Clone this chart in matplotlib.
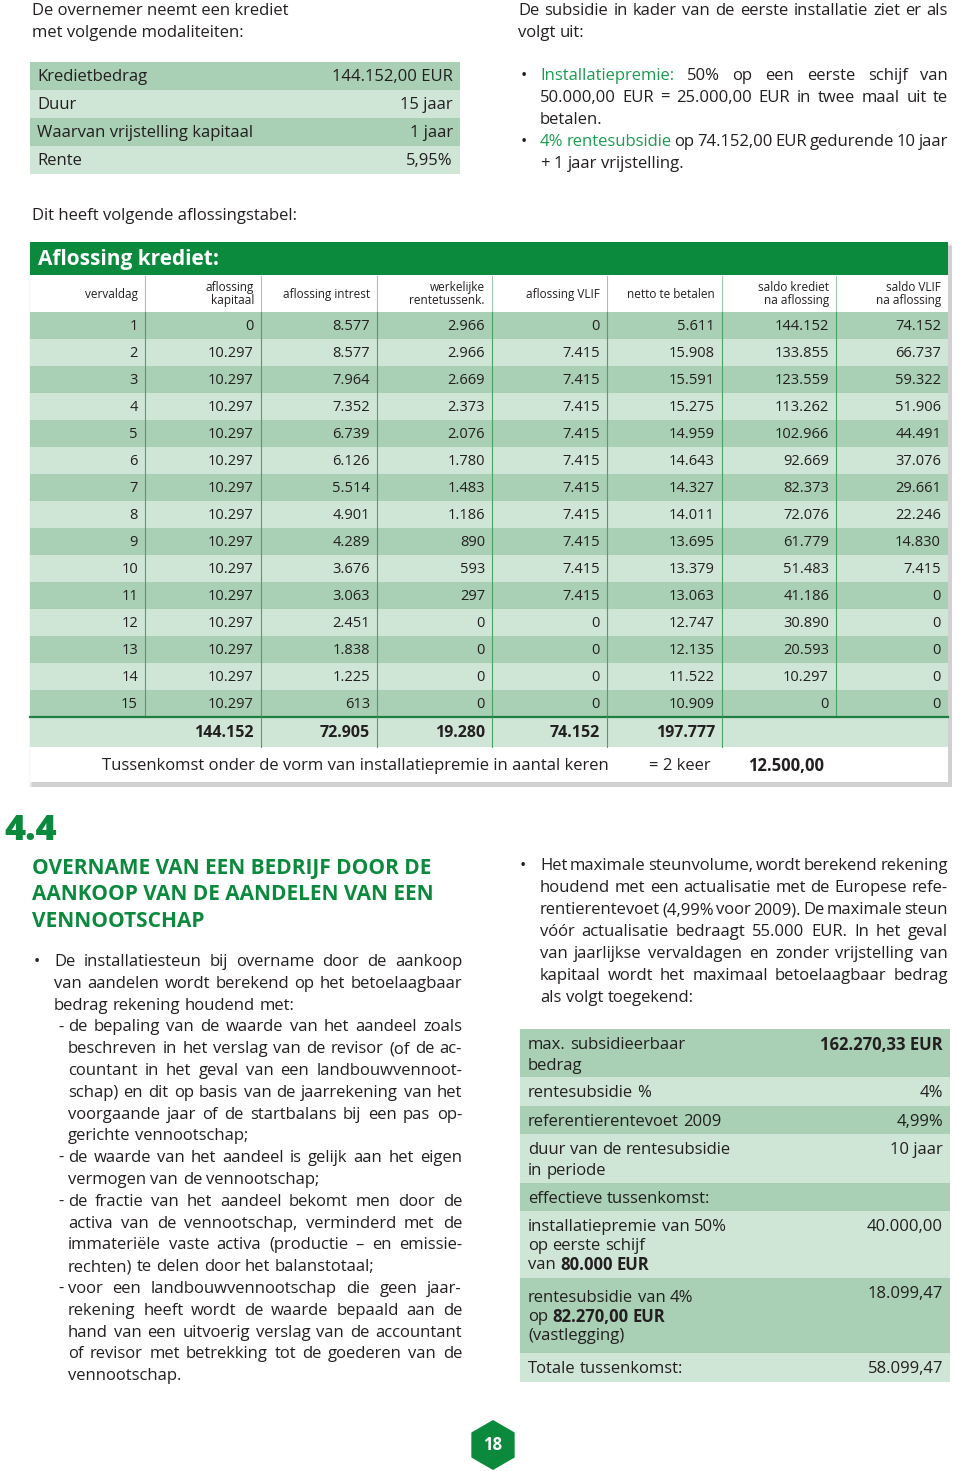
import matplotlib
matplotlib.use('Agg')
import matplotlib.pyplot as plt
from matplotlib.patches import Rectangle, RegularPolygon

plt.rcParams['font.family'] = ['Open Sans', 'DejaVu Sans']

# kleuren
GREEN = '#0b8a3e'
GREEN_TXT = '#1c9a4f'
DARK = '#a9cfb4'
LIGHT = '#cfe5d6'
INK = '#231f20'
SEP = '#4aa466'
FS = 12

# kleine tabel links boven
krediet_labels = ['Kredietbedrag', 'Duur', 'Waarvan vrijstelling kapitaal', 'Rente']
krediet_values = ['144.152,00 EUR', '15 jaar', '1 jaar', '5,95%']

# aflossingstabel
kolom_koppen = ['vervaldag', 'aflossing\nkapitaal', 'aflossing intrest', 'werkelijke\nrentetussenk.',
                'aflossing VLIF', 'netto te betalen', 'saldo krediet\nna aflossing', 'saldo VLIF\nna aflossing']
vervaldag = [1, 2, 3, 4, 5, 6, 7, 8, 9, 10, 11, 12, 13, 14, 15]
afl_kapitaal = [0, 10297, 10297, 10297, 10297, 10297, 10297, 10297, 10297, 10297, 10297, 10297, 10297, 10297, 10297]
afl_intrest = [8577, 8577, 7964, 7352, 6739, 6126, 5514, 4901, 4289, 3676, 3063, 2451, 1838, 1225, 613]
rentetussenk = [2966, 2966, 2669, 2373, 2076, 1780, 1483, 1186, 890, 593, 297, 0, 0, 0, 0]
afl_vlif = [0, 7415, 7415, 7415, 7415, 7415, 7415, 7415, 7415, 7415, 7415, 0, 0, 0, 0]
netto = [5611, 15908, 15591, 15275, 14959, 14643, 14327, 14011, 13695, 13379, 13063, 12747, 12135, 11522, 10909]
saldo_krediet = [144152, 133855, 123559, 113262, 102966, 92669, 82373, 72076, 61779, 51483, 41186, 30890, 20593, 10297, 0]
saldo_vlif = [74152, 66737, 59322, 51906, 44491, 37076, 29661, 22246, 14830, 7415, 0, 0, 0, 0, 0]
totalen = [144152, 72905, 19280, 74152, 197777]

# tabel rechts onder
rt_links = [
    [[('max. subsidieerbaar', 'normal')], [('bedrag', 'normal')]],
    [[('rentesubsidie %', 'normal')]],
    [[('referentierentevoet 2009', 'normal')]],
    [[('duur van de rentesubsidie', 'normal')], [('in periode', 'normal')]],
    [[('effectieve tussenkomst:', 'medium')]],
    [[('installatiepremie van 50%', 'normal')], [('op eerste schijf', 'normal')],
     [('van', 'normal'), ('80.000 EUR', 'bold')]],
    [[('rentesubsidie van 4%', 'normal')], [('op', 'normal'), ('82.270,00 EUR', 'bold')],
     [('(vastlegging)', 'normal')]],
    [[('Totale tussenkomst:', 'normal')]],
]
rt_rechts = [('162.270,33 EUR', 'bold'), ('4%', 'normal'), ('4,99%', 'normal'), ('10 jaar', 'normal'),
             ('', 'normal'), ('40.000,00', 'normal'), ('18.099,47', 'normal'), ('58.099,47', 'normal')]


def fmt(v):
    return f'{v:,}'.replace(',', '.')


fig = plt.figure(figsize=(9.6, 14.71), dpi=100)
ax = fig.add_axes([0, 0, 1, 1])
ax.set_xlim(0, 960)
ax.set_ylim(1471, 0)
ax.axis('off')
R = fig.canvas.get_renderer()


def breedte(t):
    return t.get_window_extent(renderer=R).width


def regel(segs, x0, y, x1=None, size=FS, color=INK):
    # segs: lijst van (tekst, kleur, gewicht); x1 gegeven -> uitvullen
    woorden = []
    for txt, col, wt in segs:
        for w in txt.split():
            woorden.append((w, col, wt))
    arts, wds = [], []
    for w, col, wt in woorden:
        t = ax.text(x0, y, w, fontsize=size, color=col, fontweight=wt, va='center', ha='left')
        arts.append(t)
        wds.append(breedte(t))
    a = ax.text(0, 0, 'n n', fontsize=size)
    b = ax.text(0, 0, 'nn', fontsize=size)
    sp = breedte(a) - breedte(b)
    a.remove(); b.remove()
    if x1 is not None and len(woorden) > 1:
        sp = (x1 - x0 - sum(wds)) / (len(woorden) - 1)
    x = x0
    for t, wd in zip(arts, wds):
        t.set_x(x)
        x += wd + sp


# ---------- bovenaan links ----------
ax.text(32, 11, 'De overnemer neemt een krediet', fontsize=FS, color=INK, va='center')
ax.text(32, 33, 'met volgende modaliteiten:', fontsize=FS, color=INK, va='center')

for i, (lab, val) in enumerate(zip(krediet_labels, krediet_values)):
    y0 = 62 + 28 * i
    ax.add_patch(Rectangle((30, y0), 430, 28, color=DARK if i % 2 == 0 else LIGHT, lw=0))
    ax.text(37, y0 + 15, lab, fontsize=FS, color=INK, va='center')
    ax.text(453, y0 + 15, val, fontsize=FS, color=INK, va='center', ha='right')

# ---------- bovenaan rechts ----------
regel([('De subsidie in kader van de eerste installatie ziet er als', INK, 'normal')], 518, 11, 948)
regel([('volgt uit:', INK, 'normal')], 518, 33)
ax.text(524, 76, '•', fontsize=FS, color=INK, va='center', ha='center')
ax.text(524, 142, '•', fontsize=FS, color=INK, va='center', ha='center')
regel([('Installatiepremie:', GREEN_TXT, 'normal'), ('50% op een eerste schijf van', INK, 'normal')], 540, 76, 948)
regel([('50.000,00 EUR = 25.000,00 EUR in twee maal uit te', INK, 'normal')], 540, 98, 948)
regel([('betalen.', INK, 'normal')], 540, 120)
regel([('4% rentesubsidie', GREEN_TXT, 'normal'), ('op 74.152,00 EUR gedurende 10 jaar', INK, 'normal')], 540, 142, 948)
regel([('+ 1 jaar vrijstelling.', INK, 'normal')], 540, 164)

ax.text(32, 216, 'Dit heeft volgende aflossingstabel:', fontsize=FS, color=INK, va='center')

# ---------- aflossingstabel ----------
kol = [30, 145, 261, 377, 492, 607, 722, 836, 948]
for k, al in zip(range(4), [0.03, 0.04, 0.05, 0.07]):
    ax.add_patch(Rectangle((30 - 1 + k, 243 + k), 918 + 5 - k, 540 + 4 - k, color='black', alpha=al, lw=0))
ax.add_patch(Rectangle((30, 242), 918, 540, color='white', lw=0))
ax.add_patch(Rectangle((30, 242), 918, 33, color=GREEN, lw=0))
ax.text(38, 259, 'Aflossing krediet:', fontsize=15, color='white', fontweight='bold', va='center')

for j, kop in enumerate(kolom_koppen):
    ax.text(kol[j + 1] - 7, 294, kop, fontsize=8.5, color=INK, va='center', ha='right',
            multialignment='right', linespacing=0.95)

kolommen = [vervaldag, afl_kapitaal, afl_intrest, rentetussenk, afl_vlif, netto, saldo_krediet, saldo_vlif]
for i in range(len(vervaldag)):
    y0 = 312 + 27 * i
    ax.add_patch(Rectangle((30, y0), 918, 27, color=DARK if i % 2 == 0 else LIGHT, lw=0))
    for j, col in enumerate(kolommen):
        ax.text(kol[j + 1] - 7, y0 + 14, fmt(col[i]), fontsize=10.5, color=INK, va='center', ha='right')

for x in kol[1:-1]:
    ax.plot([x, x], [276, 312], color='#9ccaa8', lw=0.8)
    ax.plot([x, x], [312, 717], color=SEP, lw=0.8)

# totaalrij
ax.add_patch(Rectangle((30, 717), 918, 30, color=LIGHT, lw=0))
ax.plot([30, 948], [717, 717], color='#1f7f43', lw=1.6)
for x in kol[2:7]:
    ax.plot([x, x], [717, 747], color=SEP, lw=0.8)
for j, v in enumerate(totalen):
    ax.text(kol[j + 2] - 7, 733, fmt(v), fontsize=11.5, color=INK, fontweight='bold', va='center', ha='right')

ax.text(102, 766, 'Tussenkomst onder de vorm van installatiepremie in aantal keren', fontsize=FS,
        color=INK, va='center')
ax.text(711, 766, '= 2 keer', fontsize=FS, color=INK, va='center', ha='right')
ax.text(748, 766, '12.500,00', fontsize=FS, color=INK, fontweight='bold', va='center')

# ---------- 4.4 ----------
ax.text(4, 831, '4.4', fontsize=26, color=GREEN, fontweight='heavy', va='center')
for k, t in enumerate(['OVERNAME VAN EEN BEDRIJF DOOR DE', 'AANKOOP VAN DE AANDELEN VAN EEN', 'VENNOOTSCHAP']):
    ax.text(32, 868 + 26.5 * k, t, fontsize=15, color=GREEN, fontweight='bold', va='center')

links = [
    ('•', 'De installatiesteun bij overname door de aankoop', True),
    ('', 'van aandelen wordt berekend op het betoelaagbaar', True),
    ('', 'bedrag rekening houdend met:', False),
    ('-', 'de bepaling van de waarde van het aandeel zoals', True),
    ('', 'beschreven in het verslag van de revisor (of de ac-', True),
    ('', 'countant in het geval van een landbouwvennoot-', True),
    ('', 'schap) en dit op basis van de jaarrekening van het', True),
    ('', 'voorgaande jaar of de startbalans bij een pas op-', True),
    ('', 'gerichte vennootschap;', False),
    ('-', 'de waarde van het aandeel is gelijk aan het eigen', True),
    ('', 'vermogen van de vennootschap;', False),
    ('-', 'de fractie van het aandeel bekomt men door de', True),
    ('', 'activa van de vennootschap, verminderd met de', True),
    ('', 'immateriële vaste activa (productie – en emissie-', True),
    ('', 'rechten) te delen door het balanstotaal;', False),
    ('-', 'voor een landbouwvennootschap die geen jaar-', True),
    ('', 'rekening heeft wordt de waarde bepaald aan de', True),
    ('', 'hand van een uitvoerig verslag van de accountant', True),
    ('', 'of revisor met betrekking tot de goederen van de', True),
    ('', 'vennootschap.', False),
]
for k, (tag, txt, uit) in enumerate(links):
    y = 962 + 21.8 * k
    x0 = 54 if k < 3 else 68
    if tag == '•':
        ax.text(37, y, '•', fontsize=FS, color=INK, va='center', ha='center')
    elif tag == '-':
        ax.text(58, y, '-', fontsize=FS, color=INK, va='center')
    regel([(txt, INK, 'normal')], x0, y, 462 if uit else None)

rechts = [
    ('Het maximale steunvolume, wordt berekend rekening', True),
    ('houdend met een actualisatie met de Europese refe-', True),
    ('rentierentevoet (4,99% voor 2009). De maximale steun', True),
    ('vóór actualisatie bedraagt 55.000 EUR. In het geval', True),
    ('van jaarlijkse vervaldagen en zonder vrijstelling van', True),
    ('kapitaal wordt het maximaal betoelaagbaar bedrag', True),
    ('als volgt toegekend:', False),
]
ax.text(523, 866, '•', fontsize=FS, color=INK, va='center', ha='center')
for k, (txt, uit) in enumerate(rechts):
    regel([(txt, INK, 'normal')], 540, 866 + 22 * k, 948 if uit else None)

# tabel rechts onder
grenzen = [1029, 1077, 1106, 1134, 1183, 1211, 1278, 1353, 1382]
for i in range(len(rt_links)):
    y0, y1 = grenzen[i], grenzen[i + 1]
    ax.add_patch(Rectangle((520, y0), 430, y1 - y0, color=DARK if i % 2 == 0 else LIGHT, lw=0))
    stap = 19 if len(rt_links[i]) == 3 else 21
    ytop = y0 + 20 if i == 6 else y0 + 16
    for m, segs in enumerate(rt_links[i]):
        regel([(s, INK, w) for s, w in segs], 528, ytop + stap * m)
    val, w = rt_rechts[i]
    if val:
        ax.text(943, y0 + 16, val, fontsize=FS, color=INK, fontweight=w, va='center', ha='right')

# paginanummer
ax.add_patch(RegularPolygon((493, 1445), 6, radius=25, color=GREEN, lw=0))
ax.text(493, 1445, '18', fontsize=12, color='white', fontweight='bold', va='center', ha='center')

fig.savefig('out.png', dpi=100)
